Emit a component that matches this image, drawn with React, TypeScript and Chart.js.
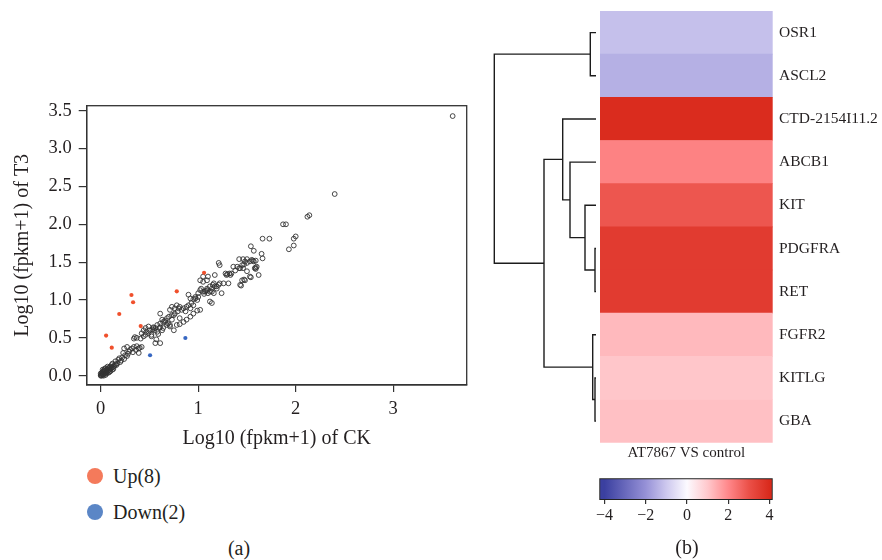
import React, { useEffect, useRef } from 'react';
import { Chart, registerables } from 'chart.js';

Chart.register(...registerables);

const FONT = "'Liberation Serif', 'Times New Roman', serif";
const INK = '#231f20';

// ---------- (a) scatter data: log10(fpkm+1) CK vs T3 ----------
const ckTicks = [0, 1, 2, 3];
const t3Ticks = [0, 0.5, 1, 1.5, 2, 2.5, 3, 3.5];

const unchangedGenes: [number, number][] = [
  [0.00, 0.00], [0.01, 0.00], [0.00, 0.01], [0.02, 0.01], [0.01, 0.02], [0.03, 0.02], [0.02, 0.03], [0.04, 0.03],
  [0.03, 0.05], [0.05, 0.04], [0.04, 0.06], [0.06, 0.05], [0.05, 0.07], [0.07, 0.06], [0.06, 0.08], [0.08, 0.07],
  [0.07, 0.09], [0.09, 0.08], [0.08, 0.10], [0.10, 0.09], [0.09, 0.11], [0.11, 0.10], [0.10, 0.12], [0.12, 0.11],
  [0.02, 0.05], [0.03, 0.07], [0.04, 0.09], [0.01, 0.04], [0.06, 0.03], [0.08, 0.04], [0.10, 0.06], [0.12, 0.08],
  [0.05, 0.10], [0.07, 0.12], [0.13, 0.12], [0.14, 0.13], [0.11, 0.14], [0.03, 0.00], [0.05, 0.01], [0.00, 0.03],
  [0.02, 0.08], [0.09, 0.05], [0.13, 0.09], [0.15, 0.15], [0.12, 0.16],
  [0.15, 0.19], [0.17, 0.16], [0.18, 0.21], [0.20, 0.18], [0.22, 0.24], [0.21, 0.20], [0.24, 0.22], [0.25, 0.27],
  [0.23, 0.30], [0.27, 0.26], [0.27, 0.38], [0.24, 0.36], [0.29, 0.32], [0.30, 0.34], [0.32, 0.36], [0.33, 0.31],
  [0.34, 0.38], [0.36, 0.34], [0.37, 0.39], [0.39, 0.36], [0.40, 0.37], [0.42, 0.38], [0.39, 0.30], [0.34, 0.49],
  [0.35, 0.51], [0.37, 0.50], [0.41, 0.49], [0.42, 0.56], [0.44, 0.60], [0.44, 0.52], [0.46, 0.54], [0.46, 0.63],
  [0.47, 0.58], [0.49, 0.56], [0.50, 0.60], [0.19, 0.23], [0.16, 0.14], [0.28, 0.29],
  [0.52, 0.54], [0.52, 0.52], [0.53, 0.61], [0.54, 0.63], [0.55, 0.60], [0.56, 0.63], [0.56, 0.43], [0.57, 0.48],
  [0.58, 0.67], [0.59, 0.55], [0.60, 0.63], [0.61, 0.69], [0.61, 0.43], [0.61, 0.64], [0.61, 0.82], [0.63, 0.60],
  [0.63, 0.74], [0.64, 0.71], [0.64, 0.63], [0.66, 0.73], [0.68, 0.67], [0.68, 0.76], [0.69, 0.69], [0.71, 0.65],
  [0.71, 0.87], [0.71, 0.67], [0.73, 0.74], [0.73, 0.80], [0.73, 0.91], [0.75, 0.80], [0.75, 0.60], [0.76, 0.89],
  [0.78, 0.67], [0.78, 0.93], [0.79, 0.85], [0.80, 0.89], [0.81, 0.68], [0.81, 0.76], [0.81, 0.91], [0.83, 0.87],
  [0.85, 0.71], [0.85, 0.89], [0.49, 0.65], [0.54, 0.64], [0.58, 0.58], [0.66, 0.71], [0.70, 0.78], [0.76, 0.82],
  [0.87, 0.85], [0.88, 0.91], [0.88, 0.74], [0.90, 0.93], [0.90, 1.07], [0.92, 0.89], [0.92, 0.78], [0.92, 1.02],
  [0.93, 0.96], [0.95, 0.93], [0.95, 1.01], [0.95, 0.82], [0.97, 1.04], [0.97, 1.02], [0.99, 1.00], [1.00, 1.09],
  [1.00, 1.04], [0.99, 0.86], [1.02, 1.13], [1.02, 0.87], [1.02, 1.26], [1.03, 1.15], [1.05, 1.31], [1.05, 1.11],
  [1.05, 1.24], [1.07, 1.11], [1.09, 1.13], [1.09, 1.15], [1.09, 1.26], [1.10, 1.09], [1.10, 1.31], [1.12, 1.11],
  [1.12, 0.98], [1.12, 1.18], [1.14, 1.15], [1.14, 0.96], [1.14, 1.11], [1.16, 1.09], [1.16, 1.22], [1.17, 1.18],
  [1.17, 1.33], [1.19, 1.18], [1.19, 1.15], [1.21, 1.20], [1.21, 1.49], [1.22, 1.22], [1.22, 1.46], [1.24, 1.09],
  [1.26, 1.22], [1.28, 1.35], [1.29, 1.33], [1.31, 1.22], [1.33, 1.33], [1.34, 1.35], [1.36, 1.44], [1.30, 1.34],
  [1.32, 1.35], [1.06, 1.08], [1.08, 1.12], [1.15, 1.20],
  [1.40, 1.44], [1.42, 1.42], [1.42, 1.54], [1.43, 1.20], [1.43, 1.42], [1.45, 1.46], [1.45, 1.26], [1.46, 1.54],
  [1.46, 1.42], [1.47, 1.27], [1.48, 1.51], [1.48, 1.26], [1.50, 1.49], [1.50, 1.54], [1.50, 1.38], [1.53, 1.51],
  [1.53, 1.31], [1.54, 1.30], [1.55, 1.53], [1.56, 1.52], [1.57, 1.51], [1.59, 1.52], [1.59, 1.43], [1.59, 1.41],
  [1.58, 1.42], [1.60, 1.44], [1.62, 1.33], [1.54, 1.71], [1.57, 1.65], [1.65, 1.61], [1.66, 1.55], [1.66, 1.81],
  [1.73, 1.81], [1.44, 1.19], [1.38, 1.39], [1.47, 1.47],
  [1.87, 2.00], [1.90, 2.00], [2.00, 1.84], [1.98, 1.81], [1.93, 1.67], [1.98, 1.72], [2.12, 2.10], [2.14, 2.12],
  [2.40, 2.40], [3.61, 3.43],
];
const upGenes: [number, number][] = [
  [0.055, 0.53], [0.113, 0.37], [0.19, 0.815], [0.315, 1.066], [0.332, 0.97], [0.41, 0.656], [0.78, 1.114], [1.06, 1.36],
];
const downGenes: [number, number][] = [[0.506, 0.27], [0.868, 0.498]];

// ---------- (b) heatmap data ----------
const geneNames = ['OSR1', 'ASCL2', 'CTD-2154I11.2', 'ABCB1', 'KIT', 'PDGFRA', 'RET', 'FGFR2', 'KITLG', 'GBA'];
const foldChanges = [-1.15, -1.44, 3.95, 2.1, 2.9, 3.55, 3.55, 1.23, 1.03, 1.12];
// hclust-style merges: negative = leaf (1-based), positive = earlier merge
const mergePairs: [number, number][] = [[-6, -7], [-9, -10], [-8, 2], [-1, -2], [-5, 1], [-4, 5], [-3, 6], [7, 3], [4, 8]];
const mergeHeights = [0.1, 0.1, 0.33, 0.57, 1.1, 2.6, 3.33, 5.2, 10.17];
const colorbarTicks = [-4, -2, 0, 2, 4];
const colorStops: [number, string][] = [
  [-4, '#3b40a0'], [-2, '#9691d7'], [-1, '#cdc8ee'], [0, '#fcfaff'],
  [1, '#ffc8cc'], [2, '#ff878a'], [3, '#eb5048'], [4, '#d92a1c'],
];

function hexRgb(h: string) {
  return [parseInt(h.slice(1, 3), 16), parseInt(h.slice(3, 5), 16), parseInt(h.slice(5, 7), 16)];
}
function heatColor(v: number) {
  if (v <= colorStops[0][0]) return colorStops[0][1];
  for (let i = 1; i < colorStops.length; i++) {
    const [v1, c1] = colorStops[i];
    const [v0, c0] = colorStops[i - 1];
    if (v <= v1) {
      const t = (v - v0) / (v1 - v0);
      const a = hexRgb(c0), b = hexRgb(c1);
      const m = a.map((x, k) => Math.round(x + (b[k] - x) * t));
      return `rgb(${m[0]},${m[1]},${m[2]})`;
    }
  }
  return colorStops[colorStops.length - 1][1];
}

function dendrogramSegments() {
  const nodeY: number[] = [];
  const pos = (ref: number) =>
    ref < 0 ? { x: 0, y: -ref - 0.5 } : { x: mergeHeights[ref - 1], y: nodeY[ref - 1] };
  return mergePairs.map(([a, b], i) => {
    const pa = pos(a), pb = pos(b);
    const h = mergeHeights[i];
    nodeY[i] = (pa.y + pb.y) / 2;
    return [
      { x: pa.x, y: pa.y }, { x: h, y: pa.y }, { x: h, y: pb.y }, { x: pb.x, y: pb.y },
    ];
  });
}

const framePlugin = {
  id: 'frame',
  afterDraw(chart: any) {
    const { ctx, chartArea: a } = chart;
    ctx.save();
    ctx.strokeStyle = '#333';
    ctx.lineWidth = 1.3;
    ctx.strokeRect(a.left, a.top, a.right - a.left, a.bottom - a.top);
    ctx.restore();
  },
};

const noPlugins = { legend: { display: false }, tooltip: { enabled: false } };

function useChart(makeConfig: () => any) {
  const ref = useRef<HTMLCanvasElement>(null);
  useEffect(() => {
    if (!ref.current) return;
    let chart: any = null;
    try {
      chart = new Chart(ref.current, makeConfig());
    } catch (e) {
      console.error(e);
    }
    return () => { if (chart) chart.destroy(); };
  }, []);
  return ref;
}

function ScatterPanel() {
  const ref = useChart(() => ({
    type: 'scatter',
    data: {
      datasets: [
        {
          label: 'Unchanged', order: 3,
          data: unchangedGenes.map(([x, y]) => ({ x, y })),
          pointRadius: 2.4, pointBorderWidth: 0.9, borderColor: '#333333', backgroundColor: 'rgba(0,0,0,0)',
        },
        {
          label: 'Up(8)', order: 1,
          data: upGenes.map(([x, y]) => ({ x, y })),
          pointRadius: 2.1, pointBorderWidth: 0, borderColor: '#f0502c', backgroundColor: '#f0502c',
        },
        {
          label: 'Down(2)', order: 2,
          data: downGenes.map(([x, y]) => ({ x, y })),
          pointRadius: 2.1, pointBorderWidth: 0, borderColor: '#3767c2', backgroundColor: '#3767c2',
        },
      ],
    },
    options: {
      responsive: false, animation: false,
      layout: { padding: { left: 0, top: 105.7, right: 13.3, bottom: 0 } },
      plugins: noPlugins,
      scales: {
        x: {
          type: 'linear', min: -0.144, max: 3.754,
          afterBuildTicks: (s: any) => { s.ticks = ckTicks.map((v) => ({ value: v })); },
          afterFit: (s: any) => { s.height = 75; },
          grid: { drawOnChartArea: false, drawTicks: true, tickLength: 7, color: '#333', lineWidth: 1.2 },
          border: { display: true, color: '#333', width: 1.3 },
          ticks: { font: { family: FONT, size: 18.5 }, color: INK, padding: 6, callback: (v: any) => String(v) },
          title: {
            display: true, text: 'Log10 (fpkm+1) of CK', color: INK,
            font: { family: FONT, size: 20 }, padding: { top: 4, bottom: 9 },
          },
        },
        y: {
          type: 'linear', min: -0.123, max: 3.567,
          afterBuildTicks: (s: any) => { s.ticks = t3Ticks.map((v) => ({ value: v })); },
          afterFit: (s: any) => { s.width = 86.7; },
          grid: { drawOnChartArea: false, drawTicks: true, tickLength: 8, color: '#333', lineWidth: 1.2 },
          border: { display: true, color: '#333', width: 1.3 },
          ticks: { font: { family: FONT, size: 18.5 }, color: INK, padding: 7, callback: (v: any) => Number(v).toFixed(1) },
          title: {
            display: true, text: 'Log10 (fpkm+1) of T3', color: INK,
            font: { family: FONT, size: 20 }, padding: { top: 10.5, bottom: 4 },
          },
        },
      },
    },
    plugins: [framePlugin],
  }));
  return <canvas ref={ref} width={480} height={460} style={{ position: 'absolute', left: 0, top: 0 }} />;
}

function DendrogramPanel() {
  const ref = useChart(() => ({
    type: 'scatter',
    data: {
      datasets: dendrogramSegments().map((seg) => ({
        data: seg, showLine: true, borderColor: '#1c1c1c', borderWidth: 1.4,
        pointRadius: 0, clip: false, tension: 0, fill: false,
      })),
    },
    options: {
      responsive: false, animation: false,
      layout: { padding: { left: 14.3, right: 4, top: 11, bottom: 17.3 } },
      plugins: noPlugins,
      scales: {
        x: { type: 'linear', display: false, reverse: true, min: 0, max: mergeHeights[mergeHeights.length - 1] },
        y: { type: 'linear', display: false, reverse: true, min: 0, max: geneNames.length },
      },
    },
  }));
  return <canvas ref={ref} width={120} height={460} style={{ position: 'absolute', left: 480, top: 0 }} />;
}

function HeatmapPanel() {
  const ref = useChart(() => ({
    type: 'bar',
    data: {
      labels: geneNames,
      datasets: [{
        data: geneNames.map(() => [0, 1]),
        backgroundColor: foldChanges.map(heatColor),
        borderWidth: 0, barPercentage: 1, categoryPercentage: 1,
      }],
    },
    options: {
      indexAxis: 'y', responsive: false, animation: false,
      layout: { padding: { left: 40, top: 11, right: 0, bottom: 0 } },
      plugins: noPlugins,
      scales: {
        x: {
          min: 0, max: 1,
          ticks: { display: false }, grid: { display: false }, border: { display: false },
          afterFit: (s: any) => { s.height = 37.3; s.paddingLeft = 0; s.paddingRight = 0; },
          title: {
            display: true, text: 'AT7867 VS control', color: INK,
            font: { family: FONT, size: 15 }, padding: { top: 0, bottom: 18 },
          },
        },
        y: {
          position: 'right',
          grid: { display: false, drawTicks: false }, border: { display: false },
          ticks: { font: { family: FONT, size: 15.5 }, color: INK, padding: 6.3 },
          afterFit: (s: any) => { s.width = 109.3; s.paddingTop = 0; s.paddingBottom = 0; },
        },
      },
    },
  }));
  return <canvas ref={ref} width={322} height={480} style={{ position: 'absolute', left: 560, top: 0 }} />;
}

function ColorbarPanel() {
  const lo = -4.25, hi = 4.15;
  const ref = useChart(() => ({
    type: 'bar',
    data: {
      labels: ['scale'],
      datasets: [{
        data: [[lo, hi]],
        backgroundColor: (c: any) => {
          const xs = c.chart.scales && c.chart.scales.x;
          if (!xs) return '#fff';
          const v0 = colorStops[0][0], v1 = colorStops[colorStops.length - 1][0];
          const p0 = xs.getPixelForValue(v0), p1 = xs.getPixelForValue(v1);
          if (!Number.isFinite(p0) || !Number.isFinite(p1) || p0 === p1) return '#fff';
          const g = c.chart.ctx.createLinearGradient(p0, 0, p1, 0);
          colorStops.forEach(([v, col]) => g.addColorStop((v - v0) / (v1 - v0), col));
          return g;
        },
        borderColor: '#222', borderWidth: 1.3, borderSkipped: false,
        barPercentage: 1, categoryPercentage: 1,
      }],
    },
    options: {
      indexAxis: 'y', responsive: false, animation: false,
      layout: { padding: { left: 39.3, right: 109.3, top: 8.3, bottom: 0 } },
      plugins: noPlugins,
      scales: {
        x: {
          type: 'linear', min: lo, max: hi,
          afterBuildTicks: (s: any) => { s.ticks = colorbarTicks.map((v) => ({ value: v })); },
          afterFit: (s: any) => { s.height = 30; },
          grid: { drawOnChartArea: false, drawTicks: true, tickLength: 4, color: '#333', lineWidth: 1.2 },
          border: { display: false },
          ticks: {
            font: { family: FONT, size: 16 }, color: INK, padding: 2,
            callback: (v: any) => (v < 0 ? '\u2212' + Math.abs(v) : String(v)),
          },
        },
        y: { display: false },
      },
    },
  }));
  return <canvas ref={ref} width={322} height={60} style={{ position: 'absolute', left: 560, top: 470 }} />;
}

const textStyle: React.CSSProperties = {
  position: 'absolute', fontFamily: FONT, color: INK, whiteSpace: 'nowrap', lineHeight: '24px',
};

export default function App() {
  return (
    <div style={{ position: 'absolute', left: 0, top: 0, width: 882, height: 560, background: '#fff', overflow: 'hidden' }}>
      <ScatterPanel />
      <DendrogramPanel />
      <HeatmapPanel />
      <ColorbarPanel />
      <div style={{ position: 'absolute', left: 87, top: 468, width: 16, height: 16, borderRadius: '50%', background: '#f47a5b' }} />
      <div style={{ ...textStyle, left: 113, top: 464, fontSize: 20 }}>Up(8)</div>
      <div style={{ position: 'absolute', left: 87, top: 504, width: 16, height: 16, borderRadius: '50%', background: '#5b86c6' }} />
      <div style={{ ...textStyle, left: 113, top: 500, fontSize: 20 }}>Down(2)</div>
      <div style={{ ...textStyle, left: 209, top: 536, width: 60, textAlign: 'center', fontSize: 20 }}>(a)</div>
      <div style={{ ...textStyle, left: 657, top: 535, width: 60, textAlign: 'center', fontSize: 20 }}>(b)</div>
    </div>
  );
}
